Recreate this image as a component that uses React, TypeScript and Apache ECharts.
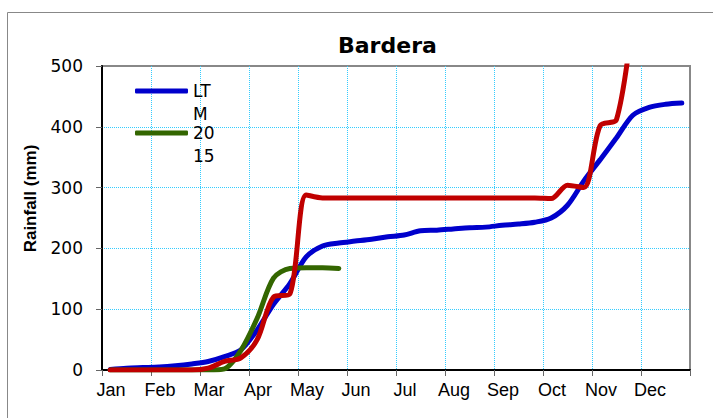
import React, { useEffect, useRef } from 'react';
import * as echarts from 'echarts';

const months = ['Jan', 'Feb', 'Mar', 'Apr', 'May', 'Jun', 'Jul', 'Aug', 'Sep', 'Oct', 'Nov', 'Dec'];
const yTicks = [0, 100, 200, 300, 400, 500];

// cumulative rainfall (mm) per dekad (3 dekads per month), plotted at dekad mid-points
const ltm = [1, 3, 4, 5, 7, 10, 14, 22, 33, 66, 108, 142, 186, 204, 209, 212, 215, 219, 222, 229, 230, 232, 234, 235, 238, 240, 243, 250, 271, 311, 346, 382, 419, 432, 437, 439];
const y2015 = [0, 0, 0, 0, 0, 0, 0, 2, 32, 85, 151, 167, 168, 168, 167];
const y2014 = [0, 0, 0, 0, 0, 0, 3, 14, 20, 50, 120, 125, 288, 283, 283, 283, 283, 283, 283, 283, 283, 283, 283, 283, 283, 283, 283, 282, 304, 300, 402, 412, 580];

const toPoints = (arr: number[]) => arr.map((v, i) => [i + 0.5, v]);

export default function App() {
  const ref = useRef<HTMLDivElement>(null);
  useEffect(() => {
    document.body.style.margin = '0';
    if (!ref.current) return;
    const chart = echarts.init(ref.current, undefined, { renderer: 'svg' });
    const cyanGrid = { color: '#33ccff', type: 'dotted' as const, width: 1 };
    const legendText = { fontFamily: 'DejaVu Sans', fontSize: 17, lineHeight: 23, color: '#000' };
    chart.setOption({
      animation: false,
      backgroundColor: '#fff',
      title: {
        text: 'Bardera',
        left: 338,
        top: 34,
        padding: 0,
        textStyle: { fontFamily: 'DejaVu Sans', fontWeight: 'bold', fontSize: 22, color: '#000' },
      },
      legend: [
        {
          data: ['LTM'],
          left: 135,
          top: 56.5,
          padding: 0,
          icon: 'roundRect',
          itemWidth: 53,
          itemHeight: 5,
          formatter: () => '\nLT\nM',
          textStyle: legendText,
        },
        {
          data: ['2015'],
          left: 135,
          top: 98.5,
          padding: 0,
          icon: 'roundRect',
          itemWidth: 53,
          itemHeight: 5,
          formatter: () => '\n20\n15',
          textStyle: legendText,
        },
      ],
      grid: {
        left: 102,
        right: 23,
        top: 66,
        bottom: 48,
        show: true,
        borderColor: '#888',
        borderWidth: 2,
        backgroundColor: 'transparent',
      },
      xAxis: {
        type: 'value',
        min: 0,
        max: 36,
        interval: 3,
        axisLine: { show: true, lineStyle: { color: '#000', width: 2 } },
        axisTick: { show: true, length: 6, lineStyle: { color: '#666', width: 1 } },
        axisLabel: {
          formatter: (v: number) => months[Math.round(v / 3)] ?? '',
          margin: 11,
          padding: [0, 0, 0, 18],
          fontFamily: 'Liberation Sans, Arial',
          fontSize: 18,
          color: '#000',
        },
        splitLine: { show: true, lineStyle: cyanGrid, showMinLine: false, showMaxLine: false },
      },
      yAxis: {
        type: 'value',
        min: yTicks[0],
        max: yTicks[yTicks.length - 1],
        interval: 100,
        name: 'Rainfall (mm)',
        nameLocation: 'middle',
        nameRotate: 90,
        nameGap: 63,
        nameTextStyle: {
          fontFamily: 'Liberation Sans, Arial',
          fontWeight: 'bold',
          fontSize: 17,
          color: '#000',
          padding: [0, 0, 0, 39],
        },
        axisLine: { show: true, lineStyle: { color: '#000', width: 2 } },
        axisTick: { show: true, length: 6, lineStyle: { color: '#666', width: 1 } },
        axisLabel: { margin: 19, fontFamily: 'DejaVu Sans', fontSize: 17, color: '#000' },
        splitLine: { show: true, lineStyle: cyanGrid, showMinLine: false, showMaxLine: false },
      },
      graphic: [
        {
          type: 'rect',
          silent: true,
          z: -10,
          shape: { x: 7.5, y: 12.5, width: 800, height: 500 },
          style: { fill: 'none', stroke: '#888', lineWidth: 1 },
        },
      ],
      series: [
        {
          name: 'LTM',
          type: 'line',
          data: toPoints(ltm),
          showSymbol: false,
          smooth: 0.3,
          clip: true,
          color: '#0000cc',
          lineStyle: { width: 5, color: '#0000cc', cap: 'round' },
        },
        {
          name: '2015',
          type: 'line',
          data: toPoints(y2015),
          showSymbol: false,
          smooth: 0.3,
          clip: true,
          color: '#336600',
          lineStyle: { width: 5, color: '#336600', cap: 'round' },
        },
        {
          name: '2014',
          type: 'line',
          data: toPoints(y2014),
          showSymbol: false,
          smooth: 0.3,
          clip: true,
          color: '#c00000',
          lineStyle: { width: 5, color: '#c00000', cap: 'round' },
        },
      ],
    });
    return () => chart.dispose();
  }, []);
  return <div ref={ref} style={{ width: 713, height: 418 }} />;
}
